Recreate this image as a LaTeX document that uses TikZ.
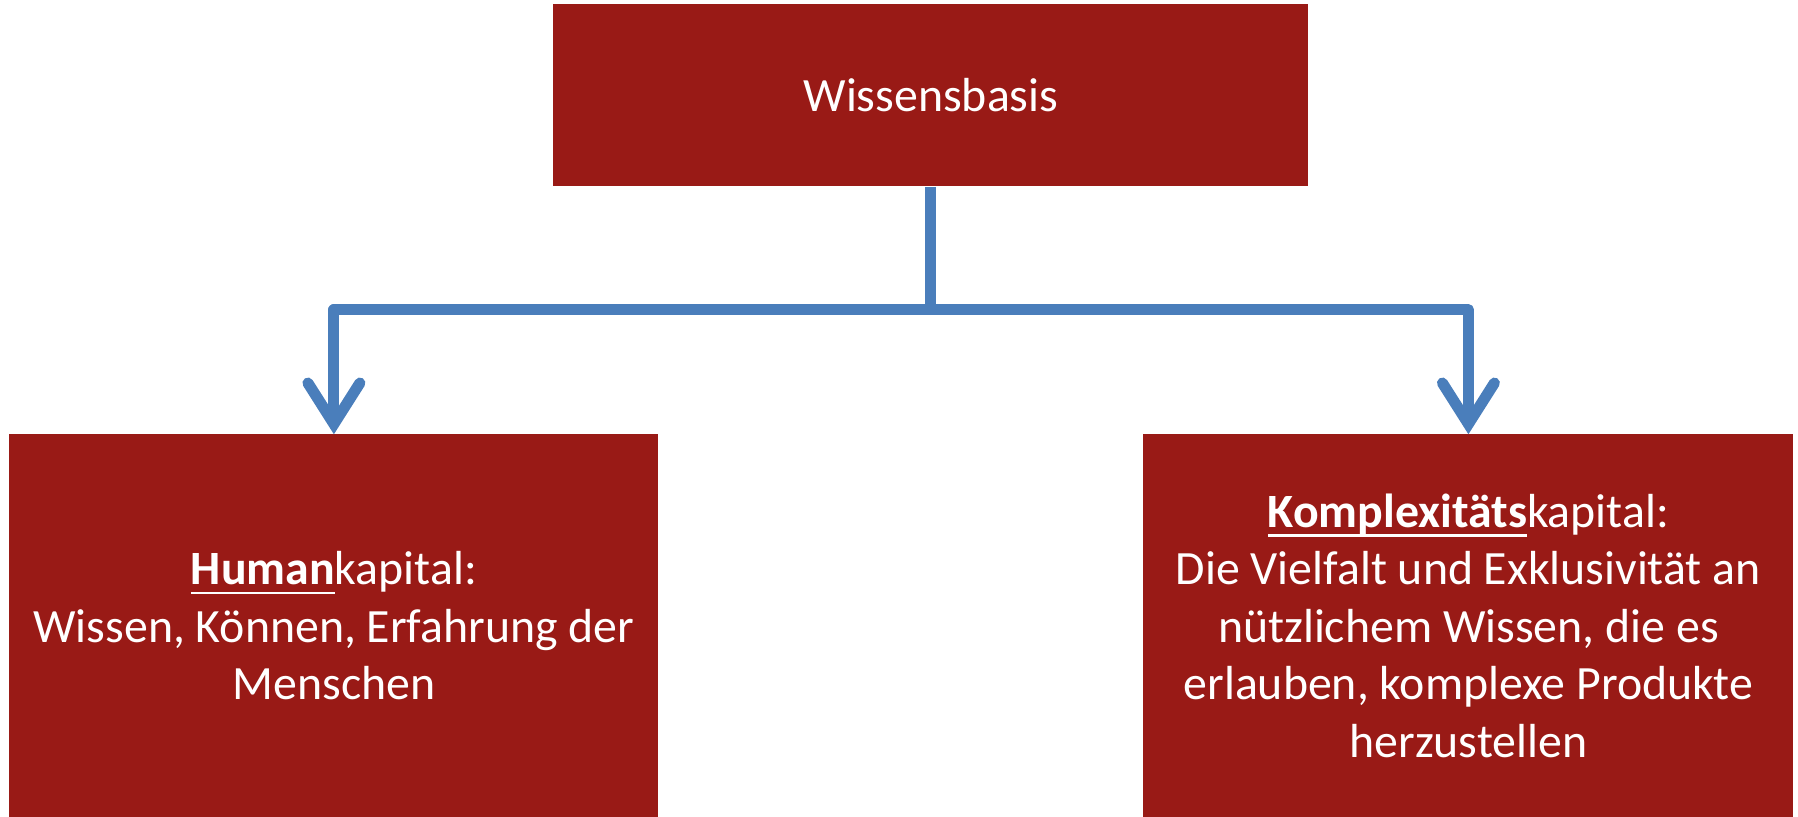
\documentclass[tikz,border=0pt]{standalone}
\usepackage{fontspec}
\setmainfont{Carlito}
\usetikzlibrary{calc}
\definecolor{boxred}{HTML}{991A16}
\definecolor{connblue}{HTML}{4A7EBB}
\newcommand\ulbold[1]{\setbox0\hbox{\bfseries #1}\rlap{\rule[-4.65pt]{\wd0}{1.3pt}}\box0}
\begin{document}
\begin{tikzpicture}[x=0.5pt,y=-0.5pt,
  box/.style={fill=boxred, draw=none, inner sep=0pt, text=white, align=center,
    font=\fontsize{23.9}{28.75}\selectfont, anchor=north west},
  conn/.style={draw=connblue, line width=5.5pt},
  arrowv/.style={conn, line join=miter, line cap=round}]
\useasboundingbox (0,0) rectangle (1798,817);
\node[box, minimum width=377.5pt, minimum height=91pt] (top) at (553,4) {Wissensbasis};
\node[box, minimum width=324.5pt, minimum height=191.5pt] (hum) at (9,434)
  {\ulbold{Human}kapital:\\Wissen, Können, Erfahrung der\\Menschen};
\node[box, minimum width=325pt, minimum height=191.5pt] (kom) at (1143,434)
  {\ulbold{Komplexitäts}kapital:\\Die Vielfalt und Exklusivität an\\nützlichem Wissen, die es\\erlauben, komplexe Produkte\\herzustellen};
\coordinate (j) at ($(top.south)+(0,123)$);
\draw[conn] (top.south) -- (j);
\draw[conn, line join=round] ($(hum.north)+(0,-10)$) |- (j) -| ($(kom.north)+(0,-10)$);
\draw[arrowv] ($(hum.north)+(-26,-51)$) -- ($(hum.north)+(0,-10)$) -- ($(hum.north)+(26,-51)$);
\draw[arrowv] ($(kom.north)+(-26,-51)$) -- ($(kom.north)+(0,-10)$) -- ($(kom.north)+(26,-51)$);
\end{tikzpicture}
\end{document}
